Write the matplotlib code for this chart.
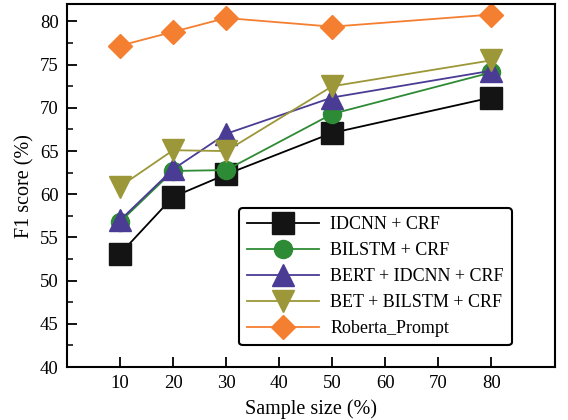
import numpy as np
import matplotlib.pyplot as plt

plt.rcParams['font.family'] = ['Liberation Serif', 'DejaVu Serif']

# Data
sample_size = [10, 20, 30, 50, 80]
idcnn_crf = [53.1, 59.7, 62.3, 67.1, 71.2]
bilstm_crf = [56.8, 62.7, 62.8, 69.3, 74.1]
bert_idcnn_crf = [57.0, 62.9, 67.0, 71.2, 74.3]
bet_bilstm_crf = [60.9, 65.1, 65.0, 72.5, 75.5]
roberta_prompt = [77.2, 78.8, 80.4, 79.4, 80.8]

fig = plt.figure(figsize=(5.68, 4.20), dpi=100)
ax = fig.add_axes([0.118, 0.126, 0.859, 0.864])

ax.plot(sample_size, idcnn_crf, color='black', marker='s', markersize=15.5,
        markerfacecolor='#141414', markeredgecolor='#141414', lw=1.3, label='IDCNN + CRF')
ax.plot(sample_size, bilstm_crf, color='#2e8b35', marker='o', markersize=13,
        lw=1.3, label='BILSTM + CRF')
ax.plot(sample_size, bert_idcnn_crf, color='#4a3c94', marker='^', markersize=16,
        lw=1.3, label='BERT + IDCNN + CRF')
ax.plot(sample_size, bet_bilstm_crf, color='#9c9738', marker='v', markersize=16,
        lw=1.3, label='BET + BILSTM + CRF')
ax.plot(sample_size, roberta_prompt, color='#f47f31', marker='D', markersize=12,
        lw=1.3, label='Roberta_Prompt')

ax.set_xlim(0, 92)
ax.set_ylim(40, 82)
ax.set_xticks([10, 20, 30, 40, 50, 60, 70, 80])
ax.set_yticks(np.arange(40, 81, 5))
ax.set_yticks(np.arange(42.5, 81, 5), minor=True)
ax.tick_params(axis='both', which='major', direction='in', length=7, width=1.3,
               labelsize=13.5, pad=6)
ax.tick_params(axis='y', which='minor', direction='in', length=4, width=1.1)
for s in ax.spines.values():
    s.set_linewidth(1.5)

ax.set_xlabel('Sample size (%)', fontsize=14.5, labelpad=5)
ax.set_ylabel('F1 score (%)', fontsize=14.5)

leg = ax.legend(loc='lower right', bbox_to_anchor=(0.93, 0.035), fontsize=13,
                handlelength=4.0, frameon=True, fancybox=True, edgecolor='black',
                borderpad=0.45, labelspacing=0.5, handletextpad=0.6)
leg.get_frame().set_linewidth(1.5)
leg.get_frame().set_alpha(1)

fig.savefig('out.png', dpi=100)
